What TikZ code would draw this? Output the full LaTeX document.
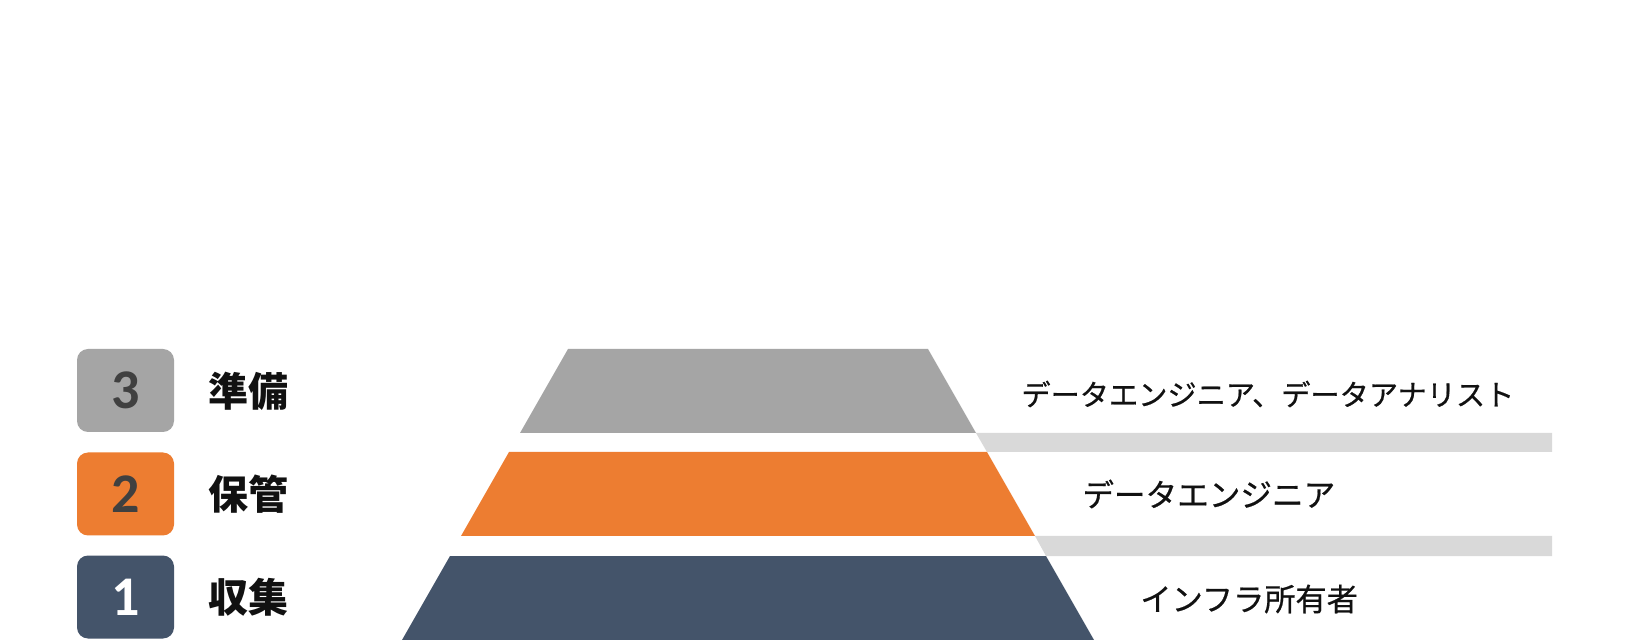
\documentclass[tikz,border=0pt]{standalone}
\usepackage{fontspec}
\newfontfamily\jp{Noto Sans CJK JP}
\newfontfamily\jpm[FakeBold=0.6]{Noto Sans CJK JP}
\newfontfamily\num{Carlito}
\definecolor{cgray}{HTML}{A5A5A5}
\definecolor{corange}{HTML}{ED7D31}
\definecolor{cdark}{HTML}{44546A}
\definecolor{cbar}{HTML}{D9D9D9}
\definecolor{cdigit}{HTML}{404040}
\definecolor{ctext}{HTML}{111111}
\begin{document}
\begin{tikzpicture}[x=0.5pt,y=-0.5pt,
  numbox/.style={rounded corners=5.5pt,inner sep=0,minimum width=48.5pt,minimum height=41.5pt},
  digit/.style={font=\num\bfseries\fontsize{28}{28}\selectfont},
  stage/.style={anchor=west,inner sep=0,font=\jp\bfseries\fontsize{20}{20}\selectfont,text=ctext},
  role/.style={anchor=west,inner sep=0,text=ctext}]
\useasboundingbox[fill=white] (0,0) rectangle (1648,640);
% pyramid layers
\fill[cgray] (568,349) -- (928,349) -- (976,433) -- (520,433) -- cycle;
\fill[cbar] (976,433) -- (1552,433) -- (1552,452) -- (987,452) -- cycle;
\fill[corange] (509,452) -- (987,452) -- (1035,536) -- (461,536) -- cycle;
\fill[cbar] (1035,536) -- (1552,536) -- (1552,556) -- (1046,556) -- cycle;
\fill[cdark] (450,556) -- (1046,556) -- (1094,640) -- (402,640) -- cycle;
% numbered boxes
\node[numbox,fill=cgray] (b3) at (125.5,390.5) {};
\node[numbox,fill=corange] (b2) at (125.5,494) {};
\node[numbox,fill=cdark] (b1) at (125.5,597) {};
\node[digit,text=cdigit] (n3) at (b3) {3};
\node[digit,text=cdigit] (n2) at (b2) {2};
\node[digit,text=white] (n1) at (b1) {1};
% stage labels
\node[stage] (s3) at (208,391) {準備};
\node[stage] (s2) at (208,494) {保管};
\node[stage] (s1) at (208,597) {収集};
% roles
\node[role,font=\jpm\fontsize{14.6}{15}\selectfont] (r3) at (1021,394) {データエンジニア、データアナリスト};
\node[role,font=\jpm\fontsize{15.8}{16}\selectfont] (r2) at (1082,494) {データエンジニア};
\node[role,font=\jpm\fontsize{15.6}{16}\selectfont] (r1) at (1140,599) {インフラ所有者};
\end{tikzpicture}
\end{document}
